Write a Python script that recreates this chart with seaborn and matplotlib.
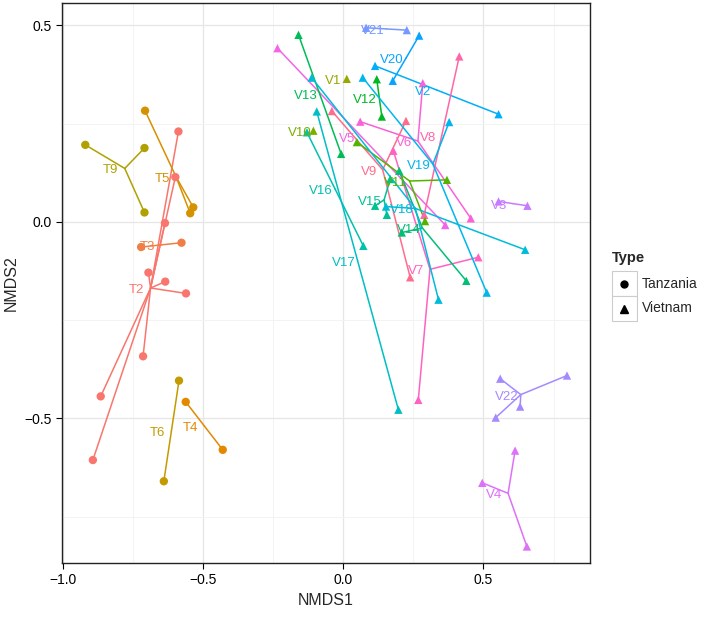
import numpy as np
import pandas as pd
import seaborn as sns
import matplotlib.pyplot as plt
from matplotlib.patches import Rectangle

# NMDS site scores, one entry per sample
site_group = ['T2'] * 9 + ['T3'] * 2 + ['T4'] * 2 + ['T5'] * 3 + ['T6'] * 2 + ['T9'] * 3 + \
    ['V1'] + ['V2'] * 2 + ['V3'] * 2 + ['V4'] * 3 + ['V5'] * 2 + ['V6'] * 3 + ['V7'] * 3 + \
    ['V8'] * 2 + ['V9'] * 3 + ['V10'] + ['V11'] * 3 + ['V12'] * 2 + ['V13'] * 2 + \
    ['V14'] * 3 + ['V15'] * 3 + ['V16'] * 2 + ['V17'] * 2 + ['V18'] * 4 + ['V19'] * 3 + \
    ['V20'] * 2 + ['V21'] * 2 + ['V22'] * 4
nmds1 = [-0.587, -0.598, -0.635, -0.694, -0.634, -0.560, -0.713, -0.864, -0.892,   # T2
         -0.720, -0.576,                     # T3
         -0.561, -0.429,                     # T4
         -0.706, -0.534, -0.545,             # T5
         -0.585, -0.639,                     # T6
         -0.919, -0.708, -0.708,             # T9
         0.013,                              # V1
         0.114, 0.554,                       # V2
         0.554, 0.657,                       # V3
         0.613, 0.496, 0.655,                # V4
         -0.234, 0.364,                      # V5
         0.284, 0.455, 0.061,                # V6
         0.268, 0.482, 0.179,                # V7
         0.414, 0.289,                       # V8
         -0.040, 0.224, 0.239,               # V9
         -0.106,                             # V10
         0.049, 0.370, 0.292,                # V11
         0.120, 0.138,                       # V12
         -0.159, -0.007,                     # V13
         0.439, 0.209, 0.200,                # V14
         0.114, 0.156, 0.168,                # V15
         -0.129, 0.072,                      # V16
         -0.094, 0.197,                      # V17
         -0.112, 0.340, 0.649, 0.153,        # V18
         0.070, 0.378, 0.512,                # V19
         0.271, 0.177,                       # V20
         0.082, 0.227,                       # V21
         0.560, 0.798, 0.631, 0.544]         # V22
nmds2 = [0.230, 0.114, -0.003, -0.129, -0.152, -0.182, -0.342, -0.444, -0.606,
         -0.064, -0.053,
         -0.458, -0.580,
         0.283, 0.037, 0.022,
         -0.404, -0.660,
         0.196, 0.188, 0.024,
         0.364,
         0.397, 0.274,
         0.052, 0.041,
         -0.582, -0.664, -0.826,
         0.442, -0.008,
         0.353, 0.009, 0.255,
         -0.453, -0.090, 0.181,
         0.421, 0.018,
         0.282, 0.257, -0.141,
         0.232,
         0.203, 0.107, 0.002,
         0.363, 0.268,
         0.476, 0.173,
         -0.150, -0.027, 0.130,
         0.041, 0.018, 0.109,
         0.228, -0.061,
         0.281, -0.478,
         0.367, -0.198, -0.071, 0.039,
         0.367, 0.254, -0.180,
         0.474, 0.359,
         0.494, 0.488,
         -0.399, -0.391, -0.470, -0.498]

# factor levels in the order the colour scale uses them
group_levels = ['T2', 'T3', 'T4', 'T5', 'T6', 'T9', 'V1', 'V10', 'V11', 'V12', 'V13', 'V14',
                'V15', 'V16', 'V17', 'V18', 'V19', 'V2', 'V20', 'V21', 'V22', 'V3', 'V4',
                'V5', 'V6', 'V7', 'V8', 'V9']


def hue_colour(h, c=100, l=65):
    # polar LUV -> sRGB, same as the default discrete hue scale
    hr = np.deg2rad(h)
    u, v = c * np.cos(hr), c * np.sin(hr)
    xn, yn, zn = 95.047, 100.0, 108.883
    un = 4 * xn / (xn + 15 * yn + 3 * zn)
    vn = 9 * yn / (xn + 15 * yn + 3 * zn)
    Y = yn * ((l + 16) / 116) ** 3
    up = u / (13 * l) + un
    vp = v / (13 * l) + vn
    X = 9 * Y * up / (4 * vp)
    Z = -X / 3 - 5 * Y + 3 * Y / vp
    m = np.array([[3.2404542, -1.5371385, -0.4985314],
                  [-0.9692660, 1.8760108, 0.0415560],
                  [0.0556434, -0.2040259, 1.0572252]])
    rgb = m @ (np.array([X, Y, Z]) / 100)
    rgb = np.where(rgb > 0.0031308, 1.055 * np.clip(rgb, 0, None) ** (1 / 2.4) - 0.055, 12.92 * rgb)
    return tuple(np.clip(rgb, 0, 1))


palette = {g: hue_colour(15 + i * 360 / len(group_levels)) for i, g in enumerate(group_levels)}

df = pd.DataFrame({'group': site_group, 'NMDS1': nmds1, 'NMDS2': nmds2})
df['Type'] = np.where(df['group'].str.startswith('T'), 'Tanzania', 'Vietnam')
cent = df.groupby('group')[['NMDS1', 'NMDS2']].mean()

sns.set_style('white')
plt.rcParams['font.family'] = ['Liberation Sans', 'DejaVu Sans']

W, H = 709, 619
fig = plt.figure(figsize=(W / 100, H / 100), dpi=100)
ax = fig.add_axes([62 / W, 1 - 563 / H, 528 / W, 560 / H])

# spider lines from each group centroid to its samples
for _, r in df.iterrows():
    cx, cy = cent.loc[r['group']]
    ax.plot([cx, r['NMDS1']], [cy, r['NMDS2']], color=palette[r['group']], lw=1.1, zorder=2)

sns.scatterplot(data=df, x='NMDS1', y='NMDS2', hue='group', style='Type',
                markers={'Tanzania': 'o', 'Vietnam': '^'}, palette=palette,
                s=36, linewidth=0, legend=False, ax=ax, zorder=3)

# group names sit a little left of the centroid
for g, r in cent.iterrows():
    ax.annotate(g, (r['NMDS1'], r['NMDS2']), xytext=(-14, -2), textcoords='offset pixels',
                ha='center', va='center', color=palette[g], fontsize=9.5, zorder=4)

ax.set_xlim(-1.002, 0.880)
ax.set_ylim(-0.868, 0.557)
ax.set_xticks([-1.0, -0.5, 0.0, 0.5])
ax.set_yticks([-0.5, 0.0, 0.5])
ax.set_xticks([-0.75, -0.25, 0.25, 0.75], minor=True)
ax.set_yticks([-0.75, -0.25, 0.25], minor=True)
ax.grid(True, which='major', color='#E6E6E6', lw=0.9, zorder=0)
ax.grid(True, which='minor', color='#F3F3F3', lw=0.7, zorder=0)
ax.set_axisbelow(True)
ax.tick_params(which='major', direction='out', length=4, width=0.8, color='black',
               labelsize=10, labelcolor='black', bottom=True, left=True)
ax.tick_params(which='minor', length=0)
for s in ax.spines.values():
    s.set_color('#222222')
    s.set_linewidth(1.0)
ax.set_xlabel('NMDS1', fontsize=11.5)
ax.set_ylabel('NMDS2', fontsize=11.5)

# legend drawn in a pixel-coordinate overlay
lax = fig.add_axes([600 / W, 1 - 335 / H, 109 / W, 95 / H])
lax.set_xlim(600, 709)
lax.set_ylim(335, 240)
lax.axis('off')
lax.text(612, 258, 'Type', fontsize=10.5, fontweight='bold', va='center', ha='left')
for i, (lab, mk) in enumerate([('Tanzania', 'o'), ('Vietnam', '^')]):
    y0 = 271 + i * 25
    lax.add_patch(Rectangle((612, y0), 25, 25, facecolor='white', edgecolor='#CCCCCC', lw=0.8))
    lax.plot(624.5, y0 + 12.5, marker=mk, color='black', ms=5 if mk == 'o' else 6, ls='none')
    lax.text(642, y0 + 12.5, lab, fontsize=10, va='center', ha='left')

fig.savefig('out.png', dpi=100)
